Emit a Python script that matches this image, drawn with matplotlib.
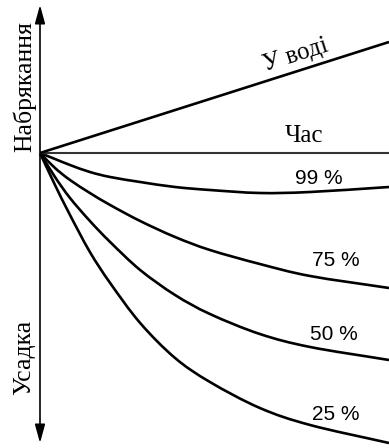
import matplotlib
matplotlib.use("Agg")
import matplotlib.pyplot as plt
import numpy as np
from matplotlib.patches import FancyArrowPatch, PathPatch
from matplotlib.path import Path

# time axis (arbitrary units) and deformation curves
time = [0, 0.43, 0.86, 1.43, 2.01, 2.87, 3.87, 4.87, 6.30, 7.74, 10.0]
rh99 = [0, -0.6, -1.2, -1.9, -2.4, -2.9, -3.4, -3.7, -4.0, -3.9, -3.4]
rh75 = [0, -1.5, -2.7, -4.0, -5.2, -6.8, -8.4, -9.7, -11.1, -12.3, -13.5]
rh50 = [0, -2.4, -4.5, -6.8, -8.9, -11.7, -14.2, -16.1, -18.1, -19.4, -20.7]
rh25 = [0, -3.2, -6.2, -9.9, -13.0, -17.0, -20.5, -22.9, -25.5, -27.2, -29.0]
water_t = [0, 10.0]
water = [0, 11.1]

curve_labels = ["99 %", "75 %", "50 %", "25 %"]
label_pos = [(7.99, -2.6), (8.48, -10.7), (8.42, -18.2), (8.48, -26.1)]

serif = "Liberation Serif"
sans = "Liberation Sans"


def smooth_path(xs, ys):
    # catmull-rom through the read points, drawn as cubic bezier segments
    p = np.column_stack([xs, ys]).astype(float)
    ext = np.vstack([2 * p[0] - p[1], p, 2 * p[-1] - p[-2]])
    verts = [p[0]]
    codes = [Path.MOVETO]
    for i in range(1, len(ext) - 2):
        p0, p1, p2, p3 = ext[i - 1], ext[i], ext[i + 1], ext[i + 2]
        verts += [p1 + (p2 - p0) / 6, p2 - (p3 - p1) / 6, p2]
        codes += [Path.CURVE4] * 3
    return Path(verts, codes)


fig = plt.figure(figsize=(3.89, 4.48), dpi=100)
ax = fig.add_axes([0, 0, 1, 1])
ax.set_xlim(-1.146, 10)
ax.set_ylim(-29.5, 15.3)
ax.axis("off")

# time axis
ax.plot([0, 10], [0, 0], color="#333333", lw=1.5)

# vertical double arrow
arr = FancyArrowPatch((0, -29.0), (0, 14.8),
                      arrowstyle="<|-|>,head_length=0.8,head_width=0.22",
                      mutation_scale=14, color="black", lw=1.2,
                      shrinkA=0, shrinkB=0)
ax.add_patch(arr)

ax.plot(water_t, water, color="black", lw=1.9, solid_capstyle="butt")
for vals in [rh99, rh75, rh50, rh25]:
    ax.add_patch(PathPatch(smooth_path(time, vals), facecolor="none",
                           edgecolor="black", lw=1.9))

for lab, (x, y) in zip(curve_labels, label_pos):
    ax.text(x, y, lab, family=sans, fontsize=15, ha="center", va="center")

ax.text(7.56, 1.7, "Час", family=serif, fontsize=18, ha="center", va="center")
ax.text(7.34, 9.8, "У воді", family=serif, fontsize=18, ha="center", va="center",
        rotation=17.6, rotation_mode="anchor")
ax.text(-0.45, 6.6, "Набрякання", family=serif, fontsize=18.5, ha="center", va="center",
        rotation=90)
ax.text(-0.45, -20.4, "Усадка", family=serif, fontsize=18.5, ha="center", va="center",
        rotation=90)

fig.savefig("out.png", dpi=100, facecolor="white")
